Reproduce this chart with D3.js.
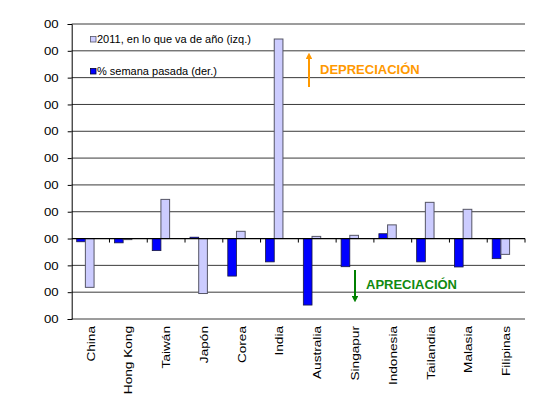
<!DOCTYPE html>
<html>
<head>
<meta charset="utf-8">
<script src="https://cdnjs.cloudflare.com/ajax/libs/d3/7.8.5/d3.min.js"></script>
<style>
  html, body { margin: 0; padding: 0; background: #fff; }
  svg { display: block; }
  text { font-family: "Liberation Sans", Arial, sans-serif; }
</style>
</head>
<body>
<script>
// Asian currencies vs USD: year-to-date change (left axis) and last week's change (right axis)
const categories = ["China", "Hong Kong", "Taiwán", "Japón", "Corea", "India",
                    "Australia", "Singapur", "Indonesia", "Tailandia", "Malasia", "Filipinas"];
const ytdValues  = [-1.82, -0.04, 1.46, -2.05, 0.27, 7.44, 0.08, 0.12, 0.51, 1.35, 1.09, -0.59];
const weekValues = [-0.12, -0.16, -0.45, 0.05, -1.40, -0.87, -2.48, -1.05, 0.18, -0.87, -1.06, -0.75];
const yTickValues = [-3, -2, -1, 0, 1, 2, 3, 4, 5, 6, 7, 8];
const yTickLabels = ["00", "00", "00", "00", "00", "00", "00", "00", "00", "00", "00", "00"];
const seriesNames = ["2011, en lo que va de año (izq.)", "% semana pasada (der.)"];

const W = 536, H = 399;
const plot = { left: 71.7, right: 525, top: 24, bottom: 319 };

const svg = d3.select("body").append("svg").attr("width", W).attr("height", H);
svg.append("rect").attr("width", W).attr("height", H).attr("fill", "#fff");

const x = d3.scaleBand().domain(categories).range([plot.left, plot.right]).padding(0);
const bw = x.bandwidth();
const xSeries = d3.scaleBand().domain(["week", "ytd"]).range([bw * 0.132, bw * 0.592]).padding(0);
const yLeft = d3.scaleLinear().domain([-3, 8]).range([plot.bottom, plot.top]);
const yRight = d3.scaleLinear().domain([-3, 8]).range([plot.bottom, plot.top]);

// horizontal gridlines
svg.append("g").selectAll("line").data(yTickValues.filter(v => v !== 0)).join("line")
  .attr("x1", plot.left).attr("x2", plot.right)
  .attr("y1", d => yLeft(d)).attr("y2", d => yLeft(d))
  .attr("stroke", "#3a3a3a").attr("stroke-width", 1);

// left axis
const yAxis = d3.axisLeft(yLeft).tickValues(yTickValues)
  .tickFormat((d, i) => yTickLabels[i]).tickSize(4).tickPadding(9);
const gy = svg.append("g").attr("transform", `translate(${plot.left},0)`).call(yAxis);
gy.select(".domain").attr("stroke", "#000");
gy.selectAll(".tick line").attr("stroke", "#000");
gy.selectAll(".tick text").attr("font-size", 11.5).attr("fill", "#000")
  .attr("transform", "scale(1.15,1)")
  .attr("x", -13 / 1.15);

// bars: last week (right axis)
svg.append("g").selectAll("rect").data(categories).join("rect")
  .attr("x", (c) => x(c) + xSeries("week"))
  .attr("width", xSeries.bandwidth())
  .attr("y", (c, i) => Math.min(yRight(weekValues[i]), yRight(0)))
  .attr("height", (c, i) => Math.abs(yRight(weekValues[i]) - yRight(0)))
  .attr("fill", "#0000ff").attr("stroke", "#1a1a40").attr("stroke-width", 0.8);

// bars: year to date (left axis)
svg.append("g").selectAll("rect").data(categories).join("rect")
  .attr("x", (c) => x(c) + xSeries("ytd"))
  .attr("width", xSeries.bandwidth())
  .attr("y", (c, i) => Math.min(yLeft(ytdValues[i]), yLeft(0)))
  .attr("height", (c, i) => Math.max(0.8, Math.abs(yLeft(ytdValues[i]) - yLeft(0))))
  .attr("fill", "#ccccff").attr("stroke", "#555566").attr("stroke-width", 1);

// category axis on the zero line
const y0 = yLeft(0);
svg.append("line").attr("x1", plot.left).attr("x2", plot.right)
  .attr("y1", y0).attr("y2", y0).attr("stroke", "#000").attr("stroke-width", 1.2);
const boundaries = categories.map(c => x(c) + bw);
svg.append("g").selectAll("line").data(boundaries).join("line")
  .attr("x1", d => d).attr("x2", d => d)
  .attr("y1", y0).attr("y2", y0 + 4)
  .attr("stroke", "#000").attr("stroke-width", 1);

// rotated category labels below the plot
svg.append("g").selectAll("text").data(categories).join("text")
  .attr("transform", c => `translate(${x(c) + bw / 2 + 4},326) rotate(-90) scale(1.3,1)`)
  .attr("text-anchor", "end")
  .attr("font-size", 10.5).attr("fill", "#000")
  .text(c => c);

// legend
const legend = svg.append("g");
const legendColors = [["#ccccff", "#555566"], ["#0000ff", "#000033"]];
const legendY = [36.5, 68.5];
seriesNames.forEach((name, i) => {
  legend.append("rect").attr("x", 90.5).attr("y", legendY[i])
    .attr("width", 5.5).attr("height", 5.5)
    .attr("fill", legendColors[i][0]).attr("stroke", legendColors[i][1]).attr("stroke-width", 0.8);
  legend.append("text").attr("x", 97).attr("y", legendY[i] + 6.5)
    .attr("font-size", 11).attr("fill", "#000").text(name);
});

// direction annotations
const defs = svg.append("defs");
function arrowHead(id, color) {
  defs.append("marker").attr("id", id).attr("viewBox", "0 0 10 10")
    .attr("refX", 5).attr("refY", 5).attr("markerWidth", 3.4).attr("markerHeight", 3.4)
    .attr("orient", "auto")
    .append("path").attr("d", "M0,0 L10,5 L0,10 Z").attr("fill", color);
}
arrowHead("arrOrange", "#ff9900");
arrowHead("arrGreen", "#008000");

svg.append("line").attr("x1", 309).attr("x2", 309).attr("y1", 87).attr("y2", 56)
  .attr("stroke", "#ff9900").attr("stroke-width", 2).attr("marker-end", "url(#arrOrange)");
svg.append("text").attr("x", 320).attr("y", 74).attr("font-size", 13).attr("font-weight", "bold")
  .attr("fill", "#ff9900").text("DEPRECIACIÓN");

svg.append("line").attr("x1", 355).attr("x2", 355).attr("y1", 270).attr("y2", 299)
  .attr("stroke", "#008000").attr("stroke-width", 2).attr("marker-end", "url(#arrGreen)");
svg.append("text").attr("x", 366).attr("y", 289).attr("font-size", 13).attr("font-weight", "bold")
  .attr("fill", "#108a10").text("APRECIACIÓN");
</script>
</body>
</html>
